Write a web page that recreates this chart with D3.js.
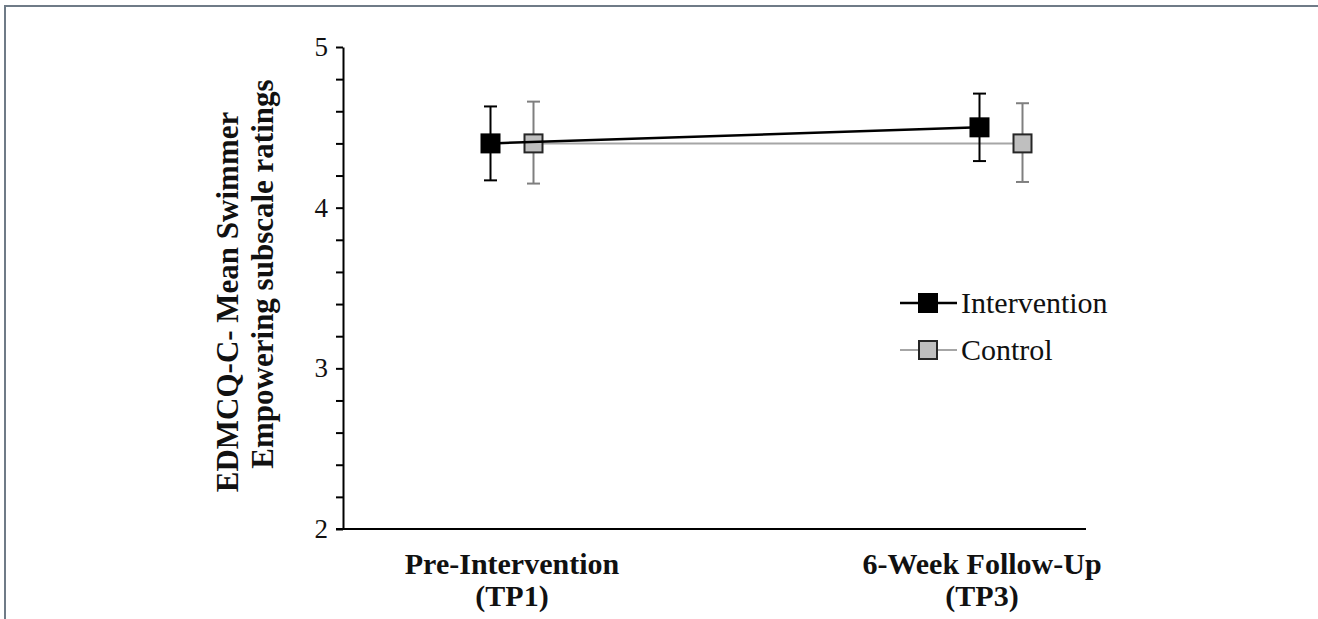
<!DOCTYPE html>
<html>
<head>
<meta charset="utf-8">
<script src="https://cdn.jsdelivr.net/npm/d3@7"></script>
</head>
<body style="margin:0; background:#fff">
<div id="visual"></div>
<script>
// data
const categories = ["Pre-Intervention", "6-Week Follow-Up"];
const categorySub = ["(TP1)", "(TP3)"];
const seriesNames = ["Intervention", "Control"];
const interventionMean = [4.40, 4.50];
const interventionLow = [4.17, 4.29];
const interventionHigh = [4.63, 4.71];
const controlMean = [4.40, 4.40];
const controlLow = [4.15, 4.16];
const controlHigh = [4.66, 4.65];
const yTicks = [2, 3, 4, 5];
const yTitle = ["EDMCQ-C- Mean Swimmer", "Empowering subscale ratings"];

const SERIF = "'Liberation Serif'";
const STYLE = {
    Intervention: {line: "#000", bar: "#000", fill: "#000", stroke: "#000", lw: 2.5},
    Control: {line: "#a6a6a6", bar: "#7f7f7f", fill: "#bfbfbf", stroke: "#262626", lw: 2}
};

const W = 1318, H = 619;
const svg = d3.select("#visual").append("svg")
    .attr("width", W)
    .attr("height", H)
    .style("display", "block");

svg.append("rect").attr("width", W).attr("height", H).attr("fill", "#fff");

// outer frame (only top and left edges show)
svg.append("path")
    .attr("d", "M5," + H + "V6H" + W)
    .attr("fill", "none")
    .attr("stroke", "#6f7b87")
    .attr("stroke-width", 2);

// scales
const y = d3.scaleLinear().domain([2, 5]).range([529, 47]);
const x = d3.scalePoint().domain(categories).range([512, 1001]);
const offset = d3.scaleBand().domain(seriesNames).range([-43, 43]);
const axisX = 343, axisEnd = 1086;

// y axis with minor ticks every 0.2
const yAxis = svg.append("g")
    .attr("transform", "translate(" + axisX + ",0)")
    .call(d3.axisLeft(y)
        .tickValues(d3.range(2, 5.001, 0.2))
        .tickSize(7)
        .tickSizeOuter(0)
        .tickPadding(8)
        .tickFormat(d => yTicks.includes(Math.round(d * 100) / 100) ? d3.format("d")(Math.round(d)) : ""));
yAxis.attr("font-family", null).attr("font-size", null);
yAxis.select(".domain").attr("stroke", "#000").attr("stroke-width", 2);
yAxis.selectAll(".tick line").attr("stroke", "#000").attr("stroke-width", 2);
yAxis.selectAll(".tick text")
    .style("font-family", SERIF)
    .style("font-size", "27px")
    .attr("fill", "#111");

// x axis line
svg.append("line")
    .attr("x1", axisX - 7).attr("x2", axisEnd)
    .attr("y1", y(2)).attr("y2", y(2))
    .attr("stroke", "#000").attr("stroke-width", 2);

// category labels, two lines each
[categories, categorySub].forEach(function (lines, k) {
    svg.append("g").selectAll("text")
        .data(lines)
        .enter().append("text")
        .attr("x", (d, i) => x(categories[i]) - (i ? 19 : 0))
        .attr("y", 574 + k * 32)
        .attr("text-anchor", "middle")
        .attr("fill", "#111")
        .style("font-family", SERIF)
        .style("font-size", "30px")
        .style("font-weight", "700")
        .text(d => d);
});

// y title, two lines
[[238, 302], [273, 274]].forEach(function (p, i) {
    svg.append("text")
        .attr("transform", "translate(" + p[0] + "," + p[1] + ")rotate(-90)")
        .attr("text-anchor", "middle")
        .attr("fill", "#111")
        .style("font-family", SERIF)
        .style("font-size", "31px")
        .style("font-weight", "700")
        .text(yTitle[i]);
});

// series
const series = [
    {name: "Intervention", mean: interventionMean, low: interventionLow, high: interventionHigh},
    {name: "Control", mean: controlMean, low: controlLow, high: controlHigh}
];

const line = d3.line()
    .x(d => d.x)
    .y(d => y(d.v));

// draw control first so intervention sits on top
series.slice().reverse().forEach(function (s) {
    const st = STYLE[s.name];
    const pts = categories.map((c, i) => ({
        x: x(c) + offset(s.name) + offset.bandwidth() / 2,
        v: s.mean[i], lo: s.low[i], hi: s.high[i]
    }));
    const g = svg.append("g");

    // error bars
    g.selectAll(".eb")
        .data(pts)
        .enter().append("line")
        .attr("x1", d => d.x).attr("x2", d => d.x)
        .attr("y1", d => y(d.lo)).attr("y2", d => y(d.hi))
        .attr("stroke", st.bar).attr("stroke-width", 2);
    ["lo", "hi"].forEach(function (k) {
        g.selectAll(".cap-" + k)
            .data(pts)
            .enter().append("line")
            .attr("x1", d => d.x - 6.5).attr("x2", d => d.x + 6.5)
            .attr("y1", d => y(d[k])).attr("y2", d => y(d[k]))
            .attr("stroke", st.bar).attr("stroke-width", 2);
    });

    g.append("path")
        .datum(pts)
        .attr("d", line)
        .attr("fill", "none")
        .attr("stroke", st.line)
        .attr("stroke-width", st.lw);

    g.selectAll(".mk")
        .data(pts)
        .enter().append("rect")
        .attr("x", d => d.x - 9).attr("y", d => y(d.v) - 9)
        .attr("width", 18).attr("height", 18)
        .attr("fill", st.fill)
        .attr("stroke", st.stroke)
        .attr("stroke-width", 2);
});

// legend
const legend = svg.append("g")
    .attr("transform", "translate(900,303)")
    .selectAll("g")
    .data(seriesNames)
    .enter().append("g")
    .attr("transform", (d, i) => "translate(0," + (i * 47) + ")");

legend.append("line")
    .attr("x1", 0).attr("x2", 57)
    .attr("stroke", d => STYLE[d].line)
    .attr("stroke-width", d => STYLE[d].lw);
legend.append("rect")
    .attr("x", 19).attr("y", -9)
    .attr("width", 18).attr("height", 18)
    .attr("fill", d => STYLE[d].fill)
    .attr("stroke", d => STYLE[d].stroke)
    .attr("stroke-width", 2);
legend.append("text")
    .attr("x", 61)
    .attr("y", 10)
    .attr("fill", "#111")
    .style("font-family", SERIF)
    .style("font-size", "30px")
    .text(d => d);
</script>
</body>
</html>
